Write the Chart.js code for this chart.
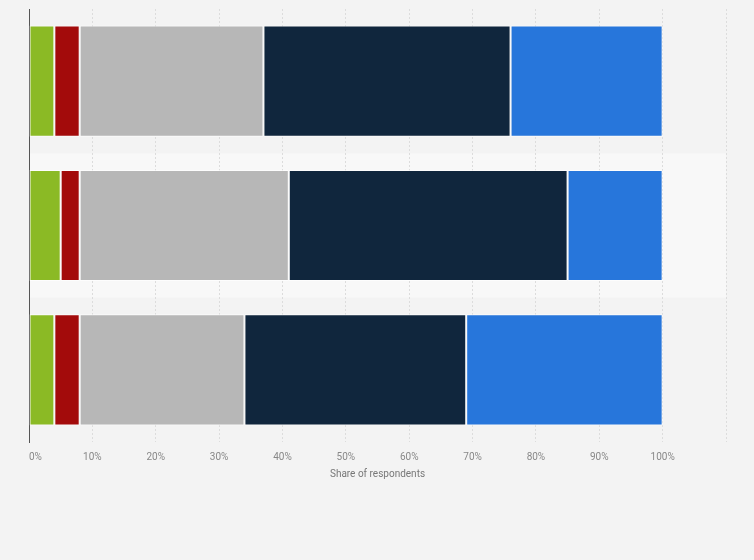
<!DOCTYPE html>
<html>
<head>
<meta charset="utf-8">
<script src="https://cdn.jsdelivr.net/npm/chart.js@4"></script>
<style>
  html, body { margin: 0; padding: 0; background: #f3f3f3; }
  #wrap { width: 754px; height: 560px; position: relative; }
</style>
</head>
<body>
<div id="wrap"><canvas id="chart-canvas"></canvas></div>
<script>
const canvas = document.getElementById("chart-canvas");
Chart.defaults.font.family = "Roboto";

// rows, top to bottom
const categories = ["Group 1", "Group 2", "Group 3"];

// share of respondents per answer, in %
const greenValues = [4, 5, 4];
const redValues = [4, 3, 4];
const grayValues = [29, 33, 26];
const navyValues = [39, 44, 35];
const blueValues = [24, 15, 31];

const tickValues = [0, 10, 20, 30, 40, 50, 60, 70, 80, 90, 100];

const makeSet = (label, data, color) => ({
  label: label,
  data: data,
  backgroundColor: color,
  borderColor: "rgba(255,255,255,0.7)",
  borderWidth: 1,
  borderSkipped: false,
  barPercentage: 0.77,
  categoryPercentage: 1,
});

// lighter band behind every second row
const bandPlugin = {
  id: "band",
  beforeDraw: (chart) => {
    const { ctx, chartArea, scales } = chart;
    const step = (chartArea.bottom - chartArea.top) / categories.length;
    ctx.save();
    ctx.fillStyle = "#f8f8f8";
    categories.forEach((c, i) => {
      if (i % 2 === 1) {
        const mid = scales.y.getPixelForValue(i);
        ctx.fillRect(chartArea.left, mid - step / 2, chartArea.right - chartArea.left, step);
      }
    });
    ctx.restore();
  },
};

new Chart(canvas, {
  type: "bar",
  data: {
    labels: categories,
    datasets: [
      makeSet("Answer 1", greenValues, "#8bba25"),
      makeSet("Answer 2", redValues, "#a30b0b"),
      makeSet("Answer 3", grayValues, "#b7b7b7"),
      makeSet("Answer 4", navyValues, "#10263d"),
      makeSet("Answer 5", blueValues, "#2776db"),
    ],
  },
  plugins: [bandPlugin],
  options: {
    indexAxis: "y",
    responsive: true,
    maintainAspectRatio: false,
    animation: false,
    layout: {
      padding: { left: 29, right: 28, top: 9, bottom: 76 },
    },
    scales: {
      x: {
        stacked: true,
        min: 0,
        max: 110,
        afterBuildTicks: (axis) => {
          axis.ticks = [...tickValues, 110].map((v) => ({ value: v }));
        },
        ticks: {
          color: "#888",
          font: { size: 10 },
          padding: 9,
          align: "inner",
          callback: (value) => (tickValues.includes(value) ? value + "%" : ""),
        },
        grid: {
          color: "#dcdcdc",
          drawTicks: false,
        },
        border: { display: false, dash: [2, 2] },
        title: {
          display: true,
          text: "Share of respondents",
          color: "#777",
          font: { size: 10 },
          padding: { top: -4 },
        },
      },
      y: {
        stacked: true,
        ticks: { display: false },
        grid: { display: false, drawTicks: false },
        border: { display: true, color: "#555", width: 1 },
      },
    },
    plugins: {
      legend: { display: false },
      title: { display: false },
      tooltip: { enabled: false },
    },
  },
});
</script>
</body>
</html>
